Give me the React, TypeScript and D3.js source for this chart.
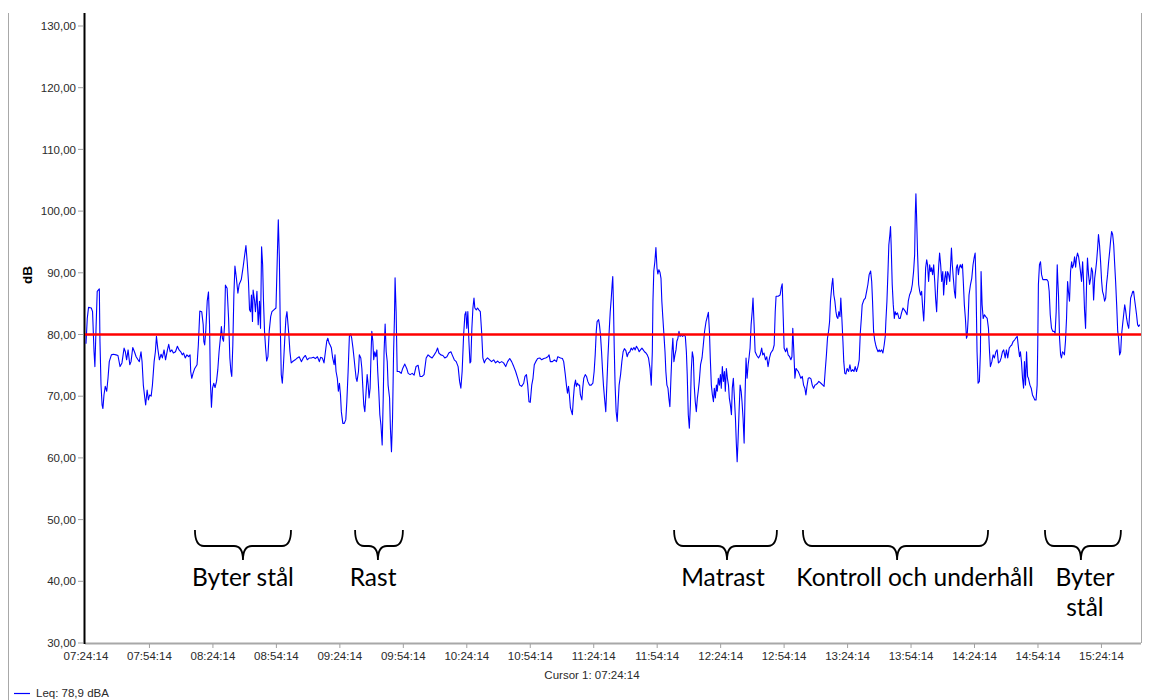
import React from 'react';
import * as d3 from 'd3';

// Measurement start and the time axis labels (every 30 minutes)
const START_TIME = '07:24:14';
const TIME_TICKS = [
  '07:24:14', '07:54:14', '08:24:14', '08:54:14', '09:24:14', '09:54:14',
  '10:24:14', '10:54:14', '11:24:14', '11:54:14', '12:24:14', '12:54:14',
  '13:24:14', '13:54:14', '14:24:14', '14:54:14', '15:24:14',
];
const END_MINUTE = 498.7;

// dB axis
const DB_TICKS = [30, 40, 50, 60, 70, 80, 90, 100, 110, 120, 130];
const LIMIT_DB = 80;
const LEQ_TEXT = 'Leq: 78,9 dBA';
const CURSOR_TEXT = 'Cursor 1: 07:24:14';

// Sound level trace: [minutes after start, dB]
const LEQ_TRACE: [number, number][] = [
  [0, 78.5], [0.6, 82.6], [1.2, 84.4], [2.5, 84.3], [3.1, 83.7], [3.8, 77.2], [4.2, 74.8], [4.7, 80.5],
  [5.3, 87.0], [6.3, 87.4], [6.6, 78.9], [7.1, 71.8], [7.6, 68.6], [8.0, 68.0], [8.5, 70.2], [9.1, 71.6],
  [9.8, 70.8], [10.4, 72.9], [11.0, 75.6], [12.0, 76.7], [12.9, 76.8], [14.2, 76.7], [15.1, 76.6], [16.1, 74.8],
  [17.0, 75.4], [18.0, 77.8], [18.6, 77.2], [19.2, 75.9], [19.9, 77.5], [20.7, 75.1], [21.3, 75.6], [22.1, 77.9],
  [22.9, 77.2], [23.7, 76.4], [24.6, 75.9], [25.2, 75.6], [26.0, 77.2], [26.5, 75.6], [27.1, 71.8], [27.8, 69.7],
  [28.2, 68.6], [28.9, 71.0], [29.5, 69.4], [30.1, 70.2], [30.8, 70.0], [31.4, 71.8], [32.2, 75.6], [32.8, 77.2],
  [33.3, 79.7], [33.9, 77.8], [34.7, 75.9], [35.5, 76.8], [36.1, 76.2], [36.9, 77.5], [37.6, 75.9], [38.5, 77.5],
  [39.1, 78.4], [39.8, 77.2], [40.6, 77.5], [41.3, 77.0], [42.3, 77.2], [43.2, 78.1], [44.0, 77.5], [44.8, 77.2],
  [45.5, 76.7], [46.1, 77.0], [46.9, 76.2], [47.7, 76.7], [48.5, 76.4], [49.2, 76.7], [49.5, 74.0], [50.0, 72.9],
  [50.6, 73.7], [51.4, 74.5], [52.5, 75.1], [53.1, 78.3], [53.8, 83.8], [54.7, 83.7], [55.4, 81.6], [55.7, 78.9],
  [56.1, 78.3], [56.6, 80.5], [57.3, 85.4], [57.9, 86.9], [58.4, 81.6], [58.8, 72.4], [59.3, 68.2], [59.8, 71.3],
  [60.4, 72.1], [61.0, 71.4], [61.7, 72.4], [62.3, 74.3], [62.9, 77.2], [63.6, 79.7], [64.0, 81.3], [64.5, 79.4],
  [65.0, 78.9], [65.5, 81.6], [65.9, 88.0], [66.7, 87.5], [67.4, 82.6], [68.0, 76.2], [68.5, 74.0], [68.9, 73.2],
  [69.4, 78.3], [69.9, 86.4], [70.4, 91.1], [71.1, 89.1], [71.8, 86.7], [72.4, 88.1], [73.4, 88.9], [74.3, 91.0],
  [74.9, 92.6], [75.6, 94.4], [76.2, 91.8], [76.8, 88.6], [77.3, 84.0], [77.8, 83.7], [78.2, 86.4], [78.7, 82.1],
  [79.0, 87.2], [79.7, 85.4], [80.1, 83.7], [80.8, 87.0], [81.4, 81.6], [82.0, 85.4], [82.5, 81.0], [83.0, 94.2],
  [83.5, 91.3], [83.9, 85.4], [84.4, 80.5], [84.9, 77.8], [85.4, 75.7], [86.0, 76.4], [86.6, 80.5], [87.3, 82.9],
  [87.9, 83.7], [88.8, 84.0], [89.8, 84.3], [90.3, 90.8], [90.6, 94.8], [90.9, 98.6], [91.4, 92.4], [91.8, 82.1],
  [92.3, 73.5], [92.8, 72.1], [93.3, 74.8], [93.9, 78.9], [94.5, 82.6], [95.0, 83.7], [95.5, 81.6], [95.9, 79.9],
  [96.4, 77.2], [97.0, 75.4], [98.0, 75.7], [98.9, 75.9], [99.9, 76.2], [100.8, 76.4], [101.8, 75.6], [102.7, 76.2],
  [103.7, 76.6], [104.6, 75.9], [105.6, 76.2], [106.5, 76.2], [107.5, 76.3], [108.4, 76.1], [109.4, 76.4], [110.3, 75.6],
  [110.9, 76.3], [111.7, 76.2], [112.5, 75.4], [113.1, 77.0], [113.8, 78.9], [114.3, 79.4], [114.9, 78.6], [115.4, 78.3],
  [116.0, 77.8], [116.6, 76.2], [117.3, 75.1], [117.7, 76.7], [118.2, 74.0], [118.8, 72.9], [119.3, 70.8], [119.8, 72.1],
  [120.3, 70.2], [120.7, 67.5], [121.4, 65.6], [122.1, 65.6], [122.8, 66.2], [123.3, 69.1], [123.9, 74.0], [124.5, 79.7],
  [125.1, 80.1], [125.6, 79.4], [126.2, 77.8], [126.7, 76.2], [127.2, 74.5], [127.7, 72.9], [128.1, 72.4], [128.8, 74.0],
  [129.2, 76.7], [129.9, 76.2], [130.4, 74.5], [130.8, 71.8], [131.3, 68.6], [131.8, 67.5], [132.3, 70.2], [132.9, 73.5],
  [133.4, 71.8], [133.8, 69.7], [134.3, 71.3], [134.8, 77.5], [135.1, 80.5], [135.6, 78.9], [136.0, 75.9], [136.5, 77.2],
  [137.0, 76.4], [137.5, 77.5], [137.9, 74.0], [138.4, 70.8], [138.9, 67.0], [139.4, 65.4], [140.0, 62.1], [140.5, 69.7],
  [140.9, 77.2], [141.4, 81.7], [141.9, 77.2], [142.4, 75.6], [142.8, 71.8], [143.5, 69.7], [143.9, 64.8], [144.4, 61.0],
  [144.9, 66.4], [145.4, 77.2], [145.8, 82.6], [146.1, 89.2], [146.6, 83.7], [147.1, 74.0], [148.0, 74.0], [149.0, 73.7],
  [149.7, 74.5], [150.7, 75.2], [151.6, 74.5], [152.3, 73.7], [153.2, 73.5], [154.2, 73.7], [155.1, 73.4], [156.0, 74.8],
  [157.0, 75.0], [157.9, 73.2], [158.9, 73.2], [159.8, 73.5], [160.8, 76.2], [161.7, 76.7], [162.7, 76.4], [163.6, 76.2],
  [164.6, 76.7], [165.5, 77.2], [166.2, 77.8], [166.8, 77.0], [167.7, 76.7], [168.7, 76.6], [169.6, 76.2], [170.6, 76.4],
  [171.5, 77.0], [172.5, 77.2], [173.1, 76.7], [174.1, 75.9], [175.0, 75.6], [175.9, 74.8], [176.6, 72.4], [177.2, 71.3],
  [177.8, 74.0], [178.5, 79.9], [179.1, 83.2], [179.6, 83.7], [180.0, 81.0], [180.5, 83.7], [181.0, 78.9], [181.5, 75.4],
  [181.9, 75.6], [182.4, 81.0], [182.9, 84.3], [183.4, 85.9], [183.8, 84.3], [184.5, 84.0], [185.1, 84.3], [185.7, 84.0],
  [186.4, 83.7], [187.0, 80.5], [187.6, 76.2], [188.3, 75.4], [188.9, 75.9], [189.8, 76.2], [190.8, 75.9], [191.7, 75.6],
  [192.7, 75.9], [193.6, 75.4], [194.6, 75.7], [195.5, 75.4], [196.5, 75.6], [197.4, 75.4], [198.4, 74.8], [199.3, 75.6],
  [200.3, 76.1], [201.2, 75.6], [202.2, 74.8], [203.1, 74.0], [204.1, 72.9], [205.0, 71.8], [205.9, 71.6], [206.9, 72.1],
  [207.5, 73.2], [208.2, 73.5], [208.8, 71.8], [209.4, 69.1], [210.0, 69.0], [210.7, 71.8], [211.3, 72.9], [211.9, 75.1],
  [212.6, 75.6], [213.5, 76.1], [214.5, 76.2], [215.4, 75.9], [216.4, 76.1], [217.3, 76.2], [218.3, 76.4], [218.9, 76.7],
  [219.5, 75.6], [220.5, 75.6], [221.4, 75.9], [222.4, 75.6], [223.0, 76.4], [223.6, 76.3], [224.3, 76.2], [225.2, 76.1],
  [225.8, 75.6], [226.5, 73.7], [227.1, 71.8], [227.6, 70.5], [228.1, 71.6], [228.5, 70.2], [229.0, 68.1], [229.5, 67.5],
  [229.9, 67.0], [230.4, 69.7], [230.9, 71.8], [231.4, 72.6], [231.8, 71.6], [232.3, 72.1], [232.8, 71.8], [233.3, 71.8],
  [233.7, 70.2], [234.4, 69.4], [234.8, 71.3], [235.3, 72.9], [236.0, 73.5], [236.6, 73.2], [237.2, 72.4], [238.0, 71.8],
  [238.8, 71.8], [239.6, 72.1], [240.2, 74.0], [240.7, 76.7], [241.2, 80.5], [241.6, 82.1], [242.3, 82.4], [242.7, 81.6],
  [243.2, 79.9], [243.7, 77.2], [244.2, 74.0], [244.6, 71.8], [245.1, 69.7], [245.7, 67.5], [246.2, 71.8], [246.7, 76.2],
  [247.3, 80.5], [247.8, 83.7], [248.3, 85.9], [248.7, 88.1], [249.0, 89.4], [249.3, 85.4], [249.7, 77.8], [250.1, 71.8],
  [250.6, 67.5], [251.1, 65.9], [251.5, 68.6], [252.0, 71.8], [252.7, 73.5], [253.3, 75.6], [253.9, 77.2], [254.5, 77.7],
  [255.2, 77.4], [255.8, 76.4], [256.4, 77.0], [257.1, 77.2], [257.7, 77.8], [258.3, 77.5], [259.0, 77.9], [259.6, 77.5],
  [260.2, 78.1], [260.9, 77.7], [261.5, 77.2], [262.1, 77.5], [262.8, 77.8], [263.4, 77.5], [264.0, 77.2], [264.7, 77.0],
  [265.3, 76.7], [265.9, 76.2], [266.6, 74.5], [267.2, 71.8], [267.7, 77.2], [268.0, 85.4], [268.4, 90.3], [268.9, 91.8],
  [269.4, 94.1], [269.9, 90.8], [270.3, 89.8], [270.8, 90.5], [271.3, 90.1], [271.8, 89.1], [272.2, 85.4], [272.7, 82.6],
  [273.2, 79.9], [273.7, 77.2], [274.1, 74.0], [274.6, 71.8], [275.1, 71.3], [275.5, 69.7], [276.0, 68.3], [276.5, 72.9],
  [277.0, 77.2], [277.4, 79.4], [277.9, 75.6], [278.4, 76.7], [278.9, 77.5], [279.3, 78.9], [279.8, 79.4], [280.3, 80.5],
  [280.8, 79.7], [281.4, 79.9], [282.0, 79.7], [282.7, 79.9], [283.3, 79.7], [283.8, 77.2], [284.2, 73.5], [284.7, 67.0],
  [285.2, 64.8], [285.7, 68.6], [286.1, 74.0], [286.6, 77.2], [287.1, 76.2], [287.5, 71.8], [288.0, 69.1], [288.5, 67.5],
  [289.0, 69.7], [289.4, 70.8], [289.9, 72.4], [290.5, 75.1], [291.2, 76.2], [291.8, 78.3], [292.4, 80.5], [293.1, 82.1],
  [293.7, 82.9], [294.2, 83.6], [294.7, 80.5], [295.1, 76.2], [295.6, 71.8], [296.1, 70.2], [296.6, 69.1], [297.0, 71.3],
  [297.5, 69.7], [298.0, 71.8], [298.4, 70.8], [298.9, 72.9], [299.4, 71.8], [299.9, 73.5], [300.3, 71.3], [300.8, 74.8],
  [301.3, 72.4], [301.8, 74.0], [302.2, 70.8], [302.7, 74.5], [303.2, 72.9], [303.7, 71.8], [304.1, 69.7], [304.6, 68.6],
  [305.1, 67.0], [305.5, 71.3], [306.0, 72.9], [306.5, 69.7], [307.0, 66.4], [307.4, 62.4], [307.8, 59.4], [308.2, 62.6],
  [308.7, 67.5], [309.2, 71.8], [309.7, 70.8], [310.1, 69.1], [310.6, 66.4], [311.1, 62.4], [311.5, 69.7], [312.0, 76.2],
  [312.5, 72.9], [313.0, 75.1], [313.4, 76.2], [313.9, 77.8], [314.4, 81.6], [314.9, 83.7], [315.3, 85.9], [315.8, 81.6],
  [316.3, 77.2], [317.1, 76.6], [317.9, 76.2], [318.7, 76.7], [319.4, 77.8], [319.9, 76.7], [320.5, 77.0], [321.2, 75.9],
  [321.8, 76.4], [322.4, 74.8], [323.1, 76.2], [323.7, 77.0], [324.7, 77.5], [325.3, 78.3], [325.8, 83.7], [326.2, 86.2],
  [327.2, 86.2], [328.1, 86.4], [328.6, 87.5], [329.1, 88.2], [329.6, 82.6], [330.0, 77.8], [330.7, 77.2], [331.3, 77.8],
  [331.9, 76.7], [332.6, 76.4], [333.2, 75.9], [333.7, 76.4], [334.1, 81.0], [334.6, 77.2], [335.1, 72.9], [335.6, 74.5],
  [336.0, 74.3], [336.7, 74.0], [337.3, 73.5], [337.9, 72.9], [338.6, 73.2], [339.2, 71.8], [339.8, 71.3], [340.3, 70.2],
  [340.8, 71.6], [341.4, 72.9], [342.0, 73.0], [342.7, 72.8], [343.3, 71.8], [343.9, 71.3], [344.6, 71.8], [345.2, 71.9],
  [345.8, 72.1], [346.4, 72.4], [347.4, 72.1], [348.3, 71.8], [348.9, 71.6], [349.4, 74.0], [350.0, 76.7], [350.5, 79.4],
  [351.0, 80.5], [351.5, 82.1], [351.9, 85.4], [352.6, 88.1], [353.0, 89.1], [353.5, 86.4], [354.0, 85.4], [354.5, 83.7],
  [354.9, 82.9], [355.4, 82.6], [355.9, 83.7], [356.4, 82.9], [356.8, 85.9], [357.3, 82.6], [357.8, 78.9], [358.2, 75.6],
  [358.7, 73.7], [359.2, 73.6], [359.8, 74.5], [360.5, 74.0], [361.1, 75.1], [361.7, 74.0], [362.4, 74.3], [363.0, 74.0],
  [363.6, 74.8], [364.2, 74.0], [364.9, 74.8], [365.5, 75.9], [366.0, 80.2], [366.5, 82.6], [366.9, 84.8], [367.7, 85.6],
  [368.4, 85.9], [369.0, 87.0], [369.6, 88.1], [370.2, 89.7], [370.9, 90.3], [371.4, 88.6], [371.8, 85.4], [372.3, 80.5],
  [372.8, 79.1], [373.3, 78.3], [373.7, 77.8], [374.4, 77.2], [375.0, 77.5], [375.4, 77.2], [376.1, 77.5], [376.7, 77.0],
  [377.3, 78.3], [377.8, 79.7], [378.1, 82.1], [378.6, 85.4], [379.1, 90.2], [379.5, 94.5], [380.0, 96.2], [380.3, 97.5],
  [380.6, 94.5], [381.1, 88.1], [381.6, 84.8], [382.1, 82.6], [382.5, 83.7], [383.0, 83.2], [383.6, 83.5], [384.3, 82.6],
  [384.9, 82.6], [385.5, 83.5], [386.2, 84.3], [386.8, 84.0], [387.4, 83.7], [388.1, 83.2], [388.7, 85.4], [389.3, 86.4],
  [390.0, 87.0], [390.6, 88.1], [391.2, 90.2], [391.7, 92.9], [392.0, 99.4], [392.3, 102.8], [392.6, 99.4], [393.1, 92.9],
  [393.6, 88.1], [394.1, 87.0], [394.5, 86.4], [395.0, 87.0], [395.5, 84.3], [396.0, 82.2], [396.4, 85.4], [396.9, 90.8],
  [397.4, 92.1], [397.8, 91.3], [398.3, 88.6], [398.8, 91.3], [399.3, 90.2], [399.7, 90.8], [400.2, 89.7], [400.7, 91.3],
  [401.2, 88.6], [401.6, 85.9], [402.1, 83.7], [402.6, 88.1], [403.1, 91.3], [403.5, 93.2], [404.0, 91.3], [404.5, 88.6],
  [405.0, 90.2], [405.4, 86.4], [405.9, 89.1], [406.4, 90.2], [406.8, 88.1], [407.3, 90.2], [407.8, 89.7], [408.3, 88.6],
  [408.7, 91.3], [409.1, 94.0], [409.5, 91.3], [410.0, 89.1], [410.5, 87.0], [411.0, 85.9], [411.4, 90.8], [411.9, 91.3],
  [412.4, 89.7], [412.8, 90.8], [413.3, 91.3], [413.8, 90.8], [414.3, 91.4], [414.7, 88.6], [415.2, 84.8], [415.7, 82.6],
  [416.2, 79.4], [416.5, 79.7], [417.0, 82.6], [417.4, 86.4], [418.1, 88.1], [418.7, 89.1], [419.3, 91.3], [419.8, 92.4],
  [420.3, 93.2], [420.7, 88.1], [421.2, 77.2], [421.7, 72.1], [422.3, 72.4], [422.8, 77.2], [423.1, 90.2], [423.6, 84.8],
  [424.1, 82.6], [424.7, 83.2], [425.3, 82.9], [426.0, 82.6], [426.6, 81.0], [427.1, 77.2], [427.5, 74.8], [428.2, 75.6],
  [428.8, 76.7], [429.4, 76.2], [430.1, 77.2], [430.7, 77.5], [431.3, 75.4], [432.0, 75.6], [432.6, 76.2], [433.2, 77.2],
  [433.8, 77.5], [434.5, 76.2], [435.1, 77.5], [435.7, 76.2], [436.4, 77.8], [437.0, 78.1], [437.6, 78.3], [438.3, 78.9],
  [438.9, 79.1], [439.5, 79.4], [440.2, 79.7], [440.8, 77.8], [441.3, 76.4], [441.7, 77.2], [442.2, 75.6], [442.7, 72.9],
  [443.2, 71.3], [443.6, 75.6], [444.1, 71.8], [444.6, 77.2], [445.1, 73.2], [445.5, 72.9], [446.2, 71.8], [446.8, 71.3],
  [447.4, 70.2], [448.1, 69.7], [448.5, 69.4], [449.1, 69.4], [449.6, 71.8], [449.9, 78.3], [450.2, 88.1], [450.7, 91.3],
  [451.2, 91.8], [451.7, 89.7], [452.3, 88.9], [453.2, 88.9], [454.2, 88.9], [454.8, 88.6], [455.3, 87.0], [455.8, 83.2],
  [456.4, 81.0], [457.0, 80.5], [457.7, 80.5], [458.1, 80.2], [458.6, 83.7], [459.1, 91.3], [459.4, 88.6], [459.7, 86.4],
  [460.2, 79.4], [460.7, 76.7], [461.1, 76.2], [461.6, 77.2], [462.1, 77.0], [462.5, 76.7], [463.0, 78.9], [463.5, 82.6],
  [464.0, 88.6], [464.4, 87.0], [464.9, 85.4], [465.4, 90.2], [465.9, 91.8], [466.3, 90.8], [466.8, 91.3], [467.3, 92.6],
  [467.8, 90.9], [468.2, 92.4], [468.7, 93.2], [469.2, 92.6], [469.7, 91.3], [470.1, 90.2], [470.6, 88.6], [471.1, 91.8],
  [471.5, 89.1], [472.0, 84.0], [472.5, 81.0], [473.0, 88.6], [473.4, 92.4], [473.9, 89.7], [474.4, 88.1], [474.9, 89.1],
  [475.3, 90.8], [475.8, 90.2], [476.3, 85.6], [476.8, 89.1], [477.2, 90.2], [477.7, 91.8], [478.2, 94.0], [478.6, 96.2],
  [479.1, 94.5], [479.6, 91.8], [480.1, 88.6], [480.5, 87.0], [481.0, 86.4], [481.5, 85.4], [482.0, 85.9], [482.4, 88.1],
  [482.9, 89.7], [483.4, 91.8], [483.9, 93.5], [484.3, 95.1], [484.8, 96.7], [485.3, 96.2], [485.8, 94.5], [486.2, 91.8],
  [486.7, 88.6], [487.2, 84.8], [487.7, 80.5], [488.1, 79.4], [488.6, 76.7], [489.1, 77.2], [489.5, 79.9], [490.0, 81.6],
  [490.5, 83.2], [491.0, 84.8], [491.4, 84.0], [491.9, 82.6], [492.4, 81.6], [492.9, 81.0], [493.3, 83.2], [493.8, 85.9],
  [494.3, 86.4], [494.8, 87.0], [495.2, 87.0], [495.7, 85.6], [496.2, 84.3], [496.6, 83.2], [497.1, 81.6], [497.6, 81.3],
  [498.1, 81.6],
];

// Work phases marked under the trace (minutes after start)
const PHASE_LABELS: string[][] = [['Byter stål'], ['Rast'], ['Matrast'], ['Kontroll och underhåll'], ['Byter', 'stål']];
const PHASE_FROM = [51.5, 127.2, 278.0, 338.9, 453.3];
const PHASE_TO = [96.9, 149.8, 326.6, 426.4, 489.2];
const PHASE_TIP = [74.2, 138.0, 303.0, 383.4, 470.3];
const PHASE_LABEL_AT = [74.2, 135.7, 301.1, 391.9, 472.2];

const W = 1162;
const H = 700;
const PLOT_LEFT = 86;
const PLOT_RIGHT = 1141;
const PLOT_TOP = 13;
const AXIS_Y = 643;
const FONT = "'Liberation Sans', Arial, sans-serif";
const NOTE_FONT = "Lato, 'Open Sans', sans-serif";

function parseClock(s: string): Date {
  const [h, m, sec] = s.split(':').map(Number);
  return new Date(2000, 0, 1, h, m, sec);
}

const start = parseClock(START_TIME);
const atMinute = (m: number) => new Date(start.getTime() + m * 60000);

const x = d3
  .scaleTime()
  .domain([start, atMinute(END_MINUTE)])
  .range([PLOT_LEFT, PLOT_RIGHT]);

const y = d3.scaleLinear().domain([30, 130]).range([AXIS_Y, 26]);

const fmtDb = (v: number) => v.toFixed(2).replace('.', ',');
const fmtClock = d3.timeFormat('%H:%M:%S');

function bracePath(x1: number, x2: number, xm: number, top: number, mid: number, tip: number) {
  const r = 9;
  return [
    `M${x1},${top}`,
    `Q${x1},${mid} ${x1 + r},${mid}`,
    `L${xm - r},${mid}`,
    `Q${xm},${mid} ${xm},${tip}`,
    `Q${xm},${mid} ${xm + r},${mid}`,
    `L${x2 - r},${mid}`,
    `Q${x2},${mid} ${x2},${top}`,
  ].join(' ');
}

export default function App() {
  const line = d3
    .line<[number, number]>()
    .x((d) => x(atMinute(d[0])))
    .y((d) => y(d[1]));

  const tickDates = TIME_TICKS.map(parseClock);

  return (
    <svg
      width={W}
      height={H}
      viewBox={`0 0 ${W} ${H}`}
      style={{ position: 'absolute', left: 0, top: 0, background: '#fff' }}
    >
      {/* outer panel edge */}
      <line x1={8.5} x2={8.5} y1={PLOT_TOP} y2={H} stroke="#a8a8a8" strokeWidth={1} />
      {/* right frame */}
      <line x1={PLOT_RIGHT + 0.5} x2={PLOT_RIGHT + 0.5} y1={PLOT_TOP} y2={AXIS_Y} stroke="#a8a8a8" strokeWidth={1} />

      {/* dB axis ticks and labels */}
      {DB_TICKS.map((v) => (
        <g key={v}>
          <line x1={78} x2={83} y1={y(v)} y2={y(v)} stroke="#a0a0a0" strokeWidth={1} />
          <text
            x={76}
            y={y(v)}
            dy="0.36em"
            textAnchor="end"
            fontFamily={FONT}
            fontSize={11.5}
            fill="#2a2a2a"
          >
            {fmtDb(v)}
          </text>
        </g>
      ))}

      {/* time axis */}
      <line x1={PLOT_LEFT - 1} x2={PLOT_RIGHT} y1={AXIS_Y + 0.5} y2={AXIS_Y + 0.5} stroke="#a8a8a8" strokeWidth={2} />
      {tickDates.map((d, i) => (
        <g key={TIME_TICKS[i]}>
          {i > 0 && (
            <line x1={x(d)} x2={x(d)} y1={AXIS_Y + 1} y2={AXIS_Y + 5} stroke="#a0a0a0" strokeWidth={1} />
          )}
          <text x={x(d)} y={660} textAnchor="middle" fontFamily={FONT} fontSize={11.5} fill="#2a2a2a">
            {fmtClock(d)}
          </text>
        </g>
      ))}

      {/* y axis line */}
      <line x1={PLOT_LEFT - 1.5} x2={PLOT_LEFT - 1.5} y1={PLOT_TOP} y2={AXIS_Y + 1} stroke="#000" strokeWidth={2} />

      {/* axis title */}
      <text
        transform={`translate(32,275) rotate(-90)`}
        textAnchor="middle"
        fontFamily={FONT}
        fontWeight="bold"
        fontSize={13.5}
        fill="#000"
      >
        dB
      </text>

      {/* level trace */}
      <path d={line(LEQ_TRACE) ?? ''} fill="none" stroke="#0000ff" strokeWidth={1.1} strokeLinejoin="round" />

      {/* 80 dB limit */}
      <line
        x1={PLOT_LEFT - 1}
        x2={PLOT_RIGHT}
        y1={y(LIMIT_DB)}
        y2={y(LIMIT_DB)}
        stroke="#ff0000"
        strokeWidth={2.5}
      />

      {/* work phases */}
      {PHASE_LABELS.map((lines, i) => {
        const x1 = x(atMinute(PHASE_FROM[i]));
        const x2 = x(atMinute(PHASE_TO[i]));
        const xm = x(atMinute(PHASE_TIP[i]));
        const lx = x(atMinute(PHASE_LABEL_AT[i]));
        return (
          <g key={i}>
            <path d={bracePath(x1, x2, xm, 530, 546, 560)} fill="none" stroke="#000" strokeWidth={1.8} />
            {lines.map((t, j) => (
              <text
                key={j}
                x={lx}
                y={586 + j * 30}
                textAnchor="middle"
                fontFamily={NOTE_FONT}
                fontSize={24.5}
                fill="#000"
              >
                {t}
              </text>
            ))}
          </g>
        );
      })}

      {/* cursor readout */}
      <text x={592} y={679} textAnchor="middle" fontFamily={FONT} fontSize={11.5} fill="#2a2a2a">
        {CURSOR_TEXT}
      </text>

      {/* legend */}
      <line x1={14} x2={30} y1={693.5} y2={693.5} stroke="#0000ff" strokeWidth={1.2} />
      <text x={36} y={697} fontFamily={FONT} fontSize={11.5} fill="#2a2a2a">
        {LEQ_TEXT}
      </text>
    </svg>
  );
}
